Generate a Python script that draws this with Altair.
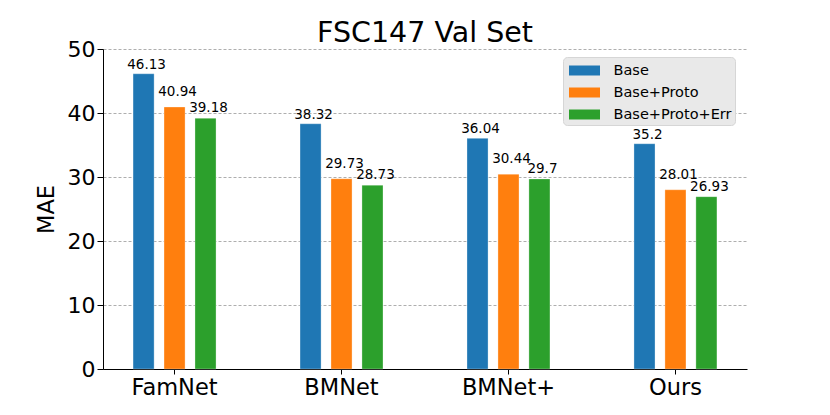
import altair as alt
import pandas as pd

methods = ["FamNet", "BMNet", "BMNet+", "Ours"]
series = ["Base", "Base+Proto", "Base+Proto+Err"]
base = [46.13, 38.32, 36.04, 35.2]
proto = [40.94, 29.73, 30.44, 28.01]
err = [39.18, 28.73, 29.7, 26.93]
labels = {"Base": ["46.13", "38.32", "36.04", "35.2"],
          "Base+Proto": ["40.94", "29.73", "30.44", "28.01"],
          "Base+Proto+Err": ["39.18", "28.73", "29.7", "26.93"]}
colors = ["#1f77b4", "#ff7f0e", "#2ca02c"]

rows = []
for s, vals in zip(series, [base, proto, err]):
    for i, (m, v) in enumerate(zip(methods, vals)):
        rows.append({"method": m, "series": s, "value": v, "label": labels[s][i]})
df = pd.DataFrame(rows)

FONT = "DejaVu Sans"

x = alt.X("method:N", sort=methods, title=None,
          scale=alt.Scale(paddingInner=0.503, paddingOuter=0.18),
          axis=alt.Axis(labelAngle=0, labelFontSize=22.5, labelFont=FONT, labelColor="black",
                        tickSize=5, tickColor="black", labelPadding=2,
                        domainColor="black", domainWidth=1, grid=False))
xo = alt.XOffset("series:N", sort=series,
                 scale=alt.Scale(paddingInner=0.32, paddingOuter=0))

bars = alt.Chart(df).mark_bar(stroke="white", strokeWidth=1, strokeOpacity=0.3).encode(
    x=x,
    xOffset=xo,
    y=alt.Y("value:Q", title="MAE",
            scale=alt.Scale(domain=[0, 50], nice=False),
            axis=alt.Axis(values=[0, 10, 20, 30, 40, 50], labelFontSize=22, labelFont=FONT,
                          labelColor="black", titleFontSize=22.5, titleFont=FONT,
                          titleFontWeight="normal", titleColor="black", titlePadding=9,
                          tickSize=6, tickColor="black", labelPadding=2,
                          domainColor="black", domainWidth=1,
                          grid=True, gridColor="#999999", gridDash=[3, 2], gridWidth=0.8)),
    color=alt.Color("series:N", sort=series, title=None,
                    scale=alt.Scale(domain=series, range=colors),
                    legend=alt.Legend(orient="none", legendX=460, legendY=8,
                                      symbolType="M-1.55,-0.5H1.55V0.5H-1.55Z", symbolSize=400,
                                      symbolOffset=8,
                                      symbolStrokeWidth=0, labelOffset=19,
                                      labelFontSize=14.5, labelFont=FONT, labelColor="black",
                                      fillColor="#e9e9e9", strokeColor="#d6d6d6",
                                      cornerRadius=4, padding=3.5, rowPadding=5)),
)

label_dy = {"Base": -5, "Base+Proto": -11, "Base+Proto+Err": -6}
texts = []
for s in series:
    texts.append(
        alt.Chart(df).transform_filter(alt.datum.series == s).mark_text(
            baseline="alphabetic", align="center", dy=label_dy[s], dx=3,
            fontSize=13.5, font=FONT, color="black").encode(
            x=alt.X("method:N", sort=methods),
            xOffset=alt.XOffset("series:N", sort=series),
            y="value:Q",
            text="label:N",
        )
    )

chart = alt.layer(bars, *texts).properties(
    width=644, height=320,
    title=alt.Title("FSC147 Val Set", fontSize=28.5, font=FONT, fontWeight="normal",
                    color="black", offset=1, dy=10, frame="group"),
    autosize=alt.AutoSizeParams(type="none"),
    padding={"left": 95, "top": 41, "right": 70, "bottom": 38},
).configure_view(stroke=None)

chart.save("out.html", embed_options={"renderer": "svg", "actions": False})
